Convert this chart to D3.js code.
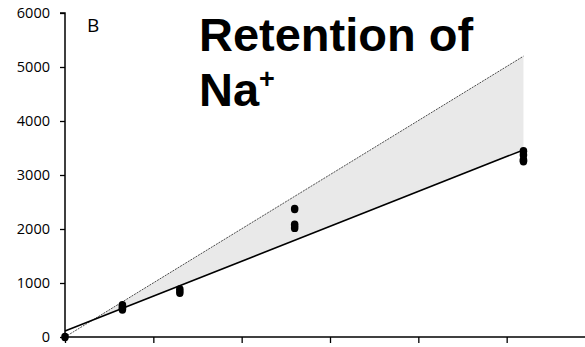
<!DOCTYPE html>
<html><head><meta charset="utf-8">
<script src="https://cdn.jsdelivr.net/npm/d3@7"></script>
<style>html,body{margin:0;padding:0;background:#fff;}svg{display:block;}</style>
</head><body>
<svg id="c" width="585" height="347"></svg>
<script>
// Data
const pointX = [0, 0.65, 0.65, 0.65, 1.3, 1.3, 2.6, 2.6, 2.6, 5.19, 5.19, 5.19, 5.19];
const pointY = [0, 590, 540, 510, 880, 820, 2370, 2080, 2020, 3440, 3370, 3280, 3255];
const fitX = [0, 5.19];
const fitY = [110, 3465];
const upperX = [0, 5.19];
const upperY = [0, 5200];
const yTicks = [0, 1000, 2000, 3000, 4000, 5000, 6000];
const xTicks = [0, 1, 2, 3, 4, 5];
const panelLabel = "B";
const titleLines = ["Retention of", "Na"];

const svg = d3.select("#c");
const x = d3.scaleLinear().domain([0, 6]).range([65, 595]);
const y = d3.scaleLinear().domain([0, 6000]).range([337, 13]);

// shaded band between fit and upper line (from their crossing)
const fa = fitY[0], fb = (fitY[1]-fitY[0])/(fitX[1]-fitX[0]);
const ua = upperY[0], ub = (upperY[1]-upperY[0])/(upperX[1]-upperX[0]);
const xc = (fa-ua)/(ub-fb);
const xe = fitX[1];
const band = [[xc, fa+fb*xc],[xe, ua+ub*xe],[xe, fa+fb*xe]];
svg.append("path")
  .attr("d", d3.line().x(d=>x(d[0])).y(d=>y(d[1]))(band) + "Z")
  .attr("fill", "#e9e9e9");

// upper dotted line
svg.append("path")
  .attr("d", d3.line().x((d,i)=>x(upperX[i])).y((d,i)=>y(upperY[i]))(upperX))
  .attr("fill","none").attr("stroke","#222").attr("stroke-width",0.8)
  .attr("stroke-dasharray","2,1");

// fit line
svg.append("path")
  .attr("d", d3.line().x((d,i)=>x(fitX[i])).y((d,i)=>y(fitY[i]))(fitX))
  .attr("fill","none").attr("stroke","#000").attr("stroke-width",1.6);

// axes
const yAxis = d3.axisLeft(y).tickValues(yTicks).tickSize(5).tickPadding(10).tickFormat(d3.format("d"));
const gy = svg.append("g").attr("transform","translate(65,0)").call(yAxis);
const xAxis = d3.axisBottom(x).tickValues(xTicks).tickSize(6).tickFormat("");
const gx = svg.append("g").attr("transform","translate(0,337)").call(xAxis);
[gx, gy].forEach(g=>{
  g.select(".domain").attr("stroke","#000").attr("stroke-width",1.5);
  g.selectAll(".tick line").attr("stroke","#000").attr("stroke-width",1.3);
});
gy.select(".domain").attr("d","M-5,13H0V337");
gy.selectAll(".tick text").attr("font-family","'Open Sans', sans-serif").attr("font-size","14.5px").attr("fill","#000");
gx.select(".domain").attr("d","M65,0H595");

// points
svg.append("g").selectAll("ellipse").data(pointX).join("ellipse")
  .attr("cx",(d,i)=>x(d)).attr("cy",(d,i)=>y(pointY[i]))
  .attr("rx",3.8).attr("ry",4.2).attr("fill","#000");

// panel label
svg.append("text").attr("x",87).attr("y",32).text(panelLabel)
  .attr("font-family","'Open Sans', sans-serif").attr("font-size","19px").attr("fill","#000");

// title
const t = svg.append("text").attr("font-family","'Liberation Sans', Arial, sans-serif")
  .attr("font-weight","bold").attr("font-size","47px").attr("fill","#000");
t.append("tspan").attr("x",199).attr("y",51).text(titleLines[0]);
const t2 = t.append("tspan").attr("x",199).attr("y",106).text(titleLines[1]);
t.append("tspan").attr("dy",-18).attr("font-size","27px").text("+");
</script>
</body></html>
